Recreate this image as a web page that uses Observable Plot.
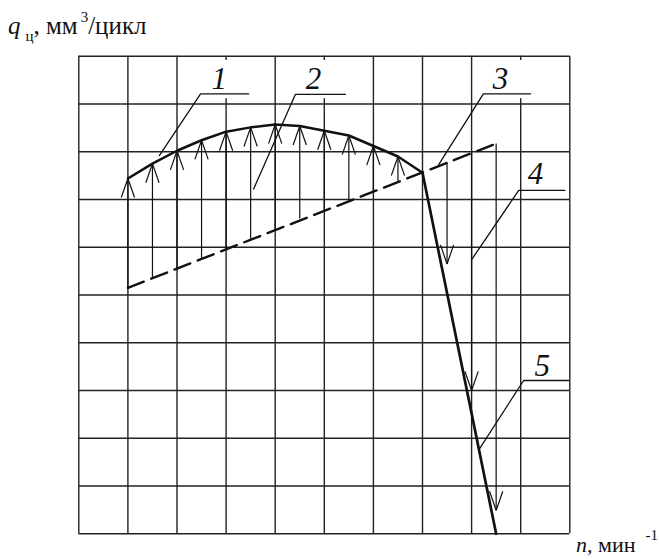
<!DOCTYPE html>
<html>
<head>
<meta charset="utf-8">
<script src="https://cdn.jsdelivr.net/npm/d3@7"></script>
<script src="https://cdn.jsdelivr.net/npm/@observablehq/plot@0.6"></script>
<style>
  body { margin: 0; background: #fff; }
  #wrap { position: relative; width: 659px; height: 559px; font-family: "Liberation Serif", "Times New Roman", serif; color: #111; }
  #chart svg { display: block; }
  .lbl { position: absolute; white-space: nowrap; line-height: 1; }
  .sub { font-size: 15px; position: relative; top: 7px; margin-left: 5px; }
  .sup { font-size: 15px; position: relative; top: -12px; margin-left: 3px; }
  .it { font-style: italic; }
</style>
</head>
<body>
<div id="wrap">
  <div id="chart"></div>
  <div id="title" class="lbl" style="left:8px; top:13px; font-size:25px;"><span class="it">q</span><span class="sub">ц</span>, мм<span class="sup">3</span>/цикл</div>
  <div id="xlabel" class="lbl" style="left:576px; top:534px; font-size:22px;"><span class="it">n</span>, мин<span class="sup" style="margin-left:10px">-1</span></div>
</div>
<script>
// Grid lines (chart units)
const gridX = [0, 1, 2, 3, 4, 5, 6, 7, 8, 9, 10];
const gridY = [0, 1, 2, 3, 4, 5, 6, 7, 8, 9, 10];

// Curve 1 (solid, upper)
const curveX = [1, 1.5, 2, 2.5, 3, 3.5, 4, 4.5, 5, 5.5, 6, 6.5, 7];
const curveY = [7.44, 7.75, 8.02, 8.24, 8.42, 8.51, 8.57, 8.54, 8.44, 8.34, 8.12, 7.90, 7.56];

// Dashed line
const dashedX = [1.0, 8.5];
const dashedY = [5.15, 8.17];

// Steep drop (line 5)
const dropX = [7.0, 8.5];
const dropY = [7.56, 0];

// Upward arrows: stems from dashed line up to curve 1
const upArrowX = [1, 1.5, 2, 2.5, 3, 3.5, 4, 4.5, 5, 5.5, 6, 6.5];
const upArrowBase = [5.15, 5.37, 5.55, 5.76, 5.96, 6.18, 6.36, 6.6, 6.76, 6.98, 7.16, 7.38];
const upArrowTip = [7.44, 7.75, 8.02, 8.24, 8.42, 8.51, 8.57, 8.54, 8.44, 8.34, 8.12, 7.90];

// Downward arrows: stems from dashed line down toward line 5
const downArrowX = [7.5, 8, 8.5];
const downArrowTop = [7.78, 7.98, 8.17];
const downArrowTip = [5.65, 3.0, 0.49];

// Numbered callouts
const labelText = ["1", "2", "3", "4", "5"];
const labelX = [2.86, 4.78, 8.59, 9.30, 9.44];
const labelY = [9.32, 9.32, 9.32, 7.33, 3.31];
const leaderEndX = [3.46, 5.43, 9.20, 9.90, 9.98];
const leaderElbowX = [2.48, 4.41, 8.24, 8.96, 9.06];
const leaderY = [9.21, 9.20, 9.21, 7.19, 3.21];
const leaderPointX = [1.64, 3.56, 7.33, 8.00, 8.16];
const leaderPointY = [7.92, 7.22, 7.73, 5.74, 1.78];
// white patches behind the upper callouts (grid lines interrupted there)
const maskX1 = [2.58, 4.50, 8.30];
const maskX2 = [3.15, 5.10, 9.10];
const maskY1 = [9.11, 9.11, 9.11];
const maskY2 = [9.91, 9.91, 9.91];

// ---- build tables ----
const curve = curveX.map((x, i) => ({x, y: curveY[i]}));
const dashed = dashedX.map((x, i) => ({x, y: dashedY[i]}));
const drop = dropX.map((x, i) => ({x, y: dropY[i]}));
const upStems = upArrowX.map((x, i) => ({x, y1: upArrowBase[i], y2: upArrowTip[i]}));
const downStems = downArrowX.map((x, i) => ({x, y1: downArrowTop[i], y2: downArrowTip[i]}));

const HW = 0.135, HH = 0.40; // arrowhead half-width / height in chart units
const heads = [];
upArrowX.forEach((x, i) => {
  const t = upArrowTip[i];
  heads.push({x1: x - HW, y1: t - HH, x2: x, y2: t});
  heads.push({x1: x + HW, y1: t - HH, x2: x, y2: t});
});
downArrowX.forEach((x, i) => {
  const t = downArrowTip[i];
  heads.push({x1: x - HW, y1: t + HH, x2: x, y2: t});
  heads.push({x1: x + HW, y1: t + HH, x2: x, y2: t});
});

const leaders = [];
labelText.forEach((t, i) => {
  leaders.push({id: i, x: leaderEndX[i], y: leaderY[i]});
  leaders.push({id: i, x: leaderElbowX[i], y: leaderY[i]});
  leaders.push({id: i, x: leaderPointX[i], y: leaderPointY[i]});
});
const labels = labelText.map((t, i) => ({t, x: labelX[i], y: labelY[i]}));
const masks = maskX1.map((x1, i) => ({x1, x2: maskX2[i], y1: maskY1[i], y2: maskY2[i]}));

const ink = "#111";

const chart = Plot.plot({
  width: 659,
  height: 559,
  marginLeft: 78.3,
  marginRight: 89.7,
  marginTop: 55.7,
  marginBottom: 25.7,
  x: {domain: [0, 10], axis: null},
  y: {domain: [0, 10], axis: null},
  style: {background: "white", fontFamily: "'Liberation Serif', 'Times New Roman', serif"},
  marks: [
    Plot.ruleX(gridX, {stroke: "#222", strokeWidth: 1.4}),
    Plot.ruleY(gridY, {stroke: "#222", strokeWidth: 1.4}),
    Plot.rect(masks, {x1: "x1", x2: "x2", y1: "y1", y2: "y2", fill: "white"}),
    Plot.link(upStems, {x1: "x", x2: "x", y1: "y1", y2: "y2", stroke: ink, strokeWidth: 1.2}),
    Plot.link(downStems, {x1: "x", x2: "x", y1: "y1", y2: "y2", stroke: ink, strokeWidth: 1.2}),
    Plot.link(heads, {x1: "x1", y1: "y1", x2: "x2", y2: "y2", stroke: ink, strokeWidth: 1.2}),
    Plot.line(dashed, {x: "x", y: "y", stroke: ink, strokeWidth: 2.4, strokeDasharray: "17,8"}),
    Plot.line(curve, {x: "x", y: "y", stroke: ink, strokeWidth: 2.5, strokeLinejoin: "round"}),
    Plot.line(drop, {x: "x", y: "y", stroke: ink, strokeWidth: 2.7}),
    Plot.line(leaders, {x: "x", y: "y", z: "id", stroke: ink, strokeWidth: 1.3}),
    Plot.text(labels, {x: "x", y: "y", text: "t", fill: ink, fontSize: 31, fontStyle: "italic",
      fontFamily: "'Liberation Serif', 'Times New Roman', serif", lineAnchor: "bottom", textAnchor: "middle"})
  ]
});
document.getElementById("chart").appendChild(chart);
</script>
</body>
</html>
